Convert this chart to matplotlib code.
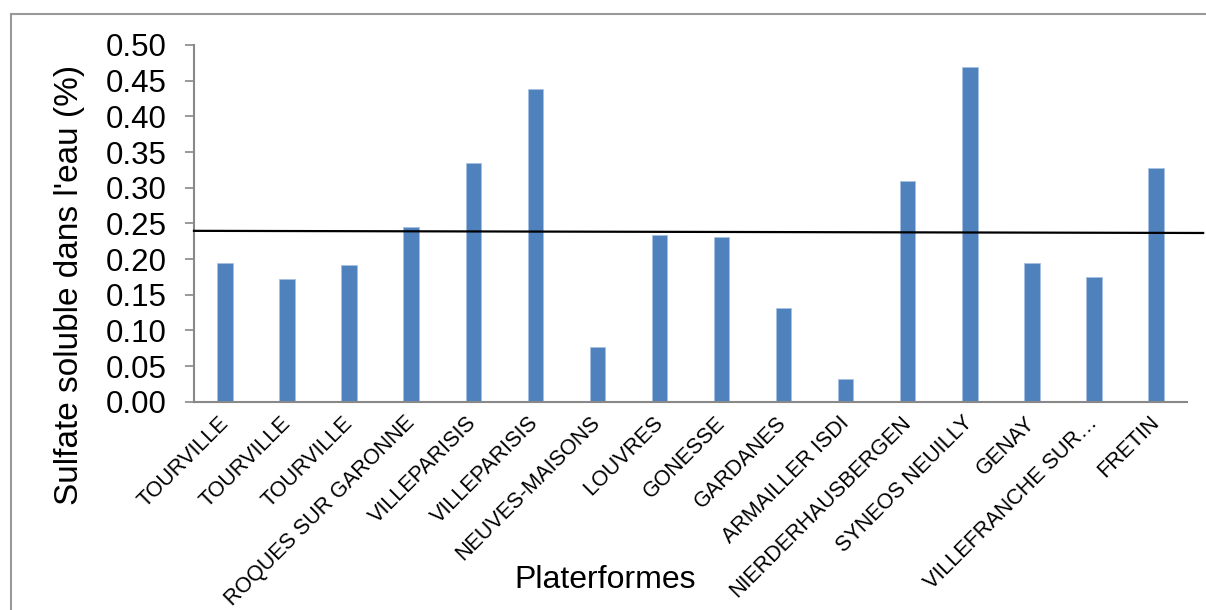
import numpy as np
import matplotlib.pyplot as plt
from matplotlib.patches import Rectangle

plt.rcParams['font.family'] = ['Liberation Sans', 'DejaVu Sans']

# Sulfate soluble dans l'eau par plateforme
platformes = ['TOURVILLE', 'TOURVILLE', 'TOURVILLE', 'ROQUES SUR GARONNE',
              'VILLEPARISIS', 'VILLEPARISIS', 'NEUVES-MAISONS', 'LOUVRES',
              'GONESSE', 'GARDANES', 'ARMAILLER ISDI', 'NIERDERHAUSBERGEN',
              'SYNEOS NEUILLY', 'GENAY', 'VILLEFRANCHE SUR…', 'FRETIN']
sulfate = [0.195, 0.172, 0.191, 0.245, 0.335, 0.439, 0.076, 0.234,
           0.231, 0.131, 0.032, 0.310, 0.469, 0.195, 0.175, 0.328]

# seuil tracé à la main (légèrement incliné)
seuil_x = [-0.5, 15.76]
seuil_y = [0.2395, 0.2365]

yticks = np.arange(0, 0.501, 0.05)

fig = plt.figure(figsize=(12.06, 6.10), dpi=100)
ax = fig.add_axes([194 / 1206, 1 - 401.7 / 610, (1187 - 194) / 1206, (401.7 - 45) / 610])

x = np.arange(len(platformes))
ax.bar(x, sulfate, width=0.25, color='#4F81BD', edgecolor='#A7C1E2', linewidth=0.6)
ax.plot(seuil_x, seuil_y, color='black', linewidth=1.6, clip_on=False, zorder=5)

ax.set_xlim(-0.5, len(platformes) - 0.5)
ax.set_ylim(0, 0.5)
ax.set_yticks(yticks)
ax.set_yticklabels([f'{v:.2f}' for v in yticks], fontsize=22.5)
ax.set_xticks(x)
ax.set_xticklabels(platformes, rotation=45, ha='right', va='center',
                   rotation_mode='anchor', fontsize=15.5)

ax.tick_params(axis='y', direction='out', length=6.5, width=1.2, color='#888888', pad=13)
ax.tick_params(axis='x', length=0, pad=13)
for side in ['top', 'right']:
    ax.spines[side].set_visible(False)
for side in ['left', 'bottom']:
    ax.spines[side].set_color('#888888')
    ax.spines[side].set_linewidth(1.5)

fig.text(70 / 1206, 1 - 285 / 610, "Sulfate soluble dans l'eau (%)", rotation=90,
         ha='center', va='center', fontsize=24)
fig.text(605 / 1206, 1 - 580 / 610, 'Platerformes', ha='center', va='center', fontsize=23)

# cadre gris autour du graphique
fig.patches.append(Rectangle((11 / 1206, -0.1), 1.2, 1.1 - 14 / 610, transform=fig.transFigure,
                             fill=False, edgecolor='#999999', linewidth=1.5))

fig.savefig('out.png', dpi=100)
